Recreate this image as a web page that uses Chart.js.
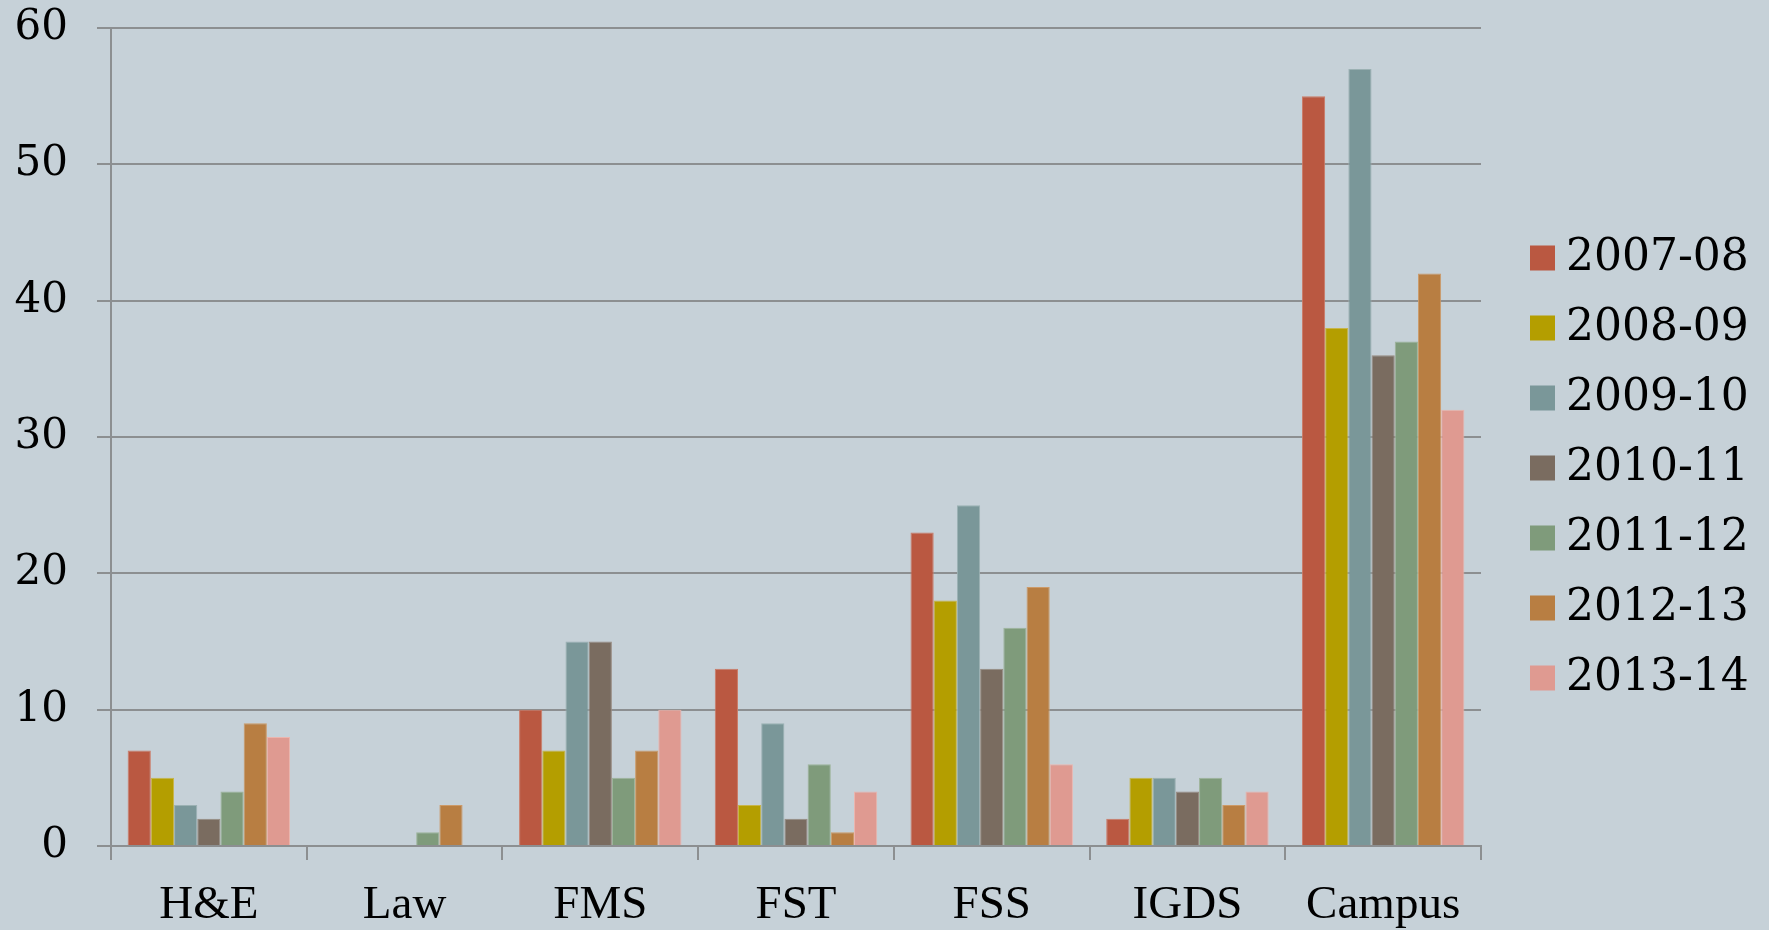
<!DOCTYPE html>
<html>
<head>
<meta charset="utf-8">
<script src="https://cdn.jsdelivr.net/npm/chart.js@4/dist/chart.umd.min.js"></script>
<style>
  html, body { margin: 0; padding: 0; background: #c6d1d8; }
  #wrap { width: 1769px; height: 930px; position: relative; }
</style>
</head>
<body>
<div id="wrap"><canvas id="chart"></canvas></div>
<script>
// data
const categories = ["H&E", "Law", "FMS", "FST", "FSS", "IGDS", "Campus"];
const years = ["2007-08", "2008-09", "2009-10", "2010-11", "2011-12", "2012-13", "2013-14"];
const y0708 = [7, 0, 10, 13, 23, 2, 55];
const y0809 = [5, 0, 7, 3, 18, 5, 38];
const y0910 = [3, 0, 15, 9, 25, 5, 57];
const y1011 = [2, 0, 15, 2, 13, 4, 36];
const y1112 = [4, 1, 5, 6, 16, 5, 37];
const y1213 = [9, 3, 7, 1, 19, 3, 42];
const y1314 = [8, 0, 10, 4, 6, 4, 32];
const yTicks = [0, 10, 20, 30, 40, 50, 60];

const seriesValues = [y0708, y0809, y0910, y1011, y1112, y1213, y1314];
const COLORS = ["#ba5841", "#b49e00", "#7a9799", "#7a6c60", "#7f9b7b", "#b87e42", "#df9a91"];
const EDGES  = ["#cc7a66", "#c8b54a", "#9bb1b3", "#978a80", "#9db49a", "#cc9a68", "#ebb5ae"];
const GRID = "#8c8f91";
const NUM_FONT = "'DejaVu Serif', serif";
const CAT_FONT = "'Liberation Serif', serif";

// legend drawn to the right of the plot, like the original slide
const sideLegend = {
  id: "sideLegend",
  afterDraw(chart) {
    const { ctx, chartArea } = chart;
    const x0 = chartArea.right + 49;
    const step = 70;
    const n = chart.data.datasets.length;
    const yMid = chart.height / 2 + 3;
    ctx.save();
    ctx.font = "44px " + NUM_FONT;
    ctx.textBaseline = "middle";
    ctx.textAlign = "left";
    chart.data.datasets.forEach((ds, i) => {
      const cy = yMid + (i - (n - 1) / 2) * step;
      ctx.fillStyle = ds.backgroundColor;
      ctx.fillRect(x0, cy - 12.5, 25, 25);
      ctx.fillStyle = "#000";
      ctx.fillText(ds.label, x0 + 36, cy + 1);
    });
    ctx.restore();
  },
};

const datasets = years.map((label, i) => ({
  label,
  data: seriesValues[i],
  backgroundColor: COLORS[i],
  borderColor: EDGES[i],
  borderWidth: 1,
  barPercentage: 1.0,
  categoryPercentage: 0.83,
}));

new Chart(document.getElementById("chart"), {
  type: "bar",
  data: { labels: categories, datasets },
  plugins: [sideLegend],
  options: {
    responsive: true,
    maintainAspectRatio: false,
    animation: false,
    layout: { padding: { top: 28, right: 288, left: 0, bottom: 0 } },
    plugins: {
      legend: { display: false },
      tooltip: { enabled: false },
    },
    scales: {
      x: {
        afterFit: (s) => { s.height = 84; },
        grid: {
          offset: true,
          drawOnChartArea: false,
          drawTicks: true,
          tickLength: 14,
          color: GRID,
          lineWidth: 2,
        },
        border: { display: true, color: GRID, width: 2 },
        ticks: {
          color: "#000",
          padding: 17,
          font: { family: CAT_FONT, size: 47 },
          maxRotation: 0,
          autoSkip: false,
        },
      },
      y: {
        min: 0,
        max: 60,
        afterFit: (s) => {
          s.width = 111;
          // labels overflow into the layout padding, don't reserve extra room
          s.paddingTop = 0;
          s.paddingBottom = 0;
        },
        afterBuildTicks: (s) => { s.ticks = yTicks.map((v) => ({ value: v })); },
        grid: {
          drawTicks: true,
          tickLength: 14,
          color: GRID,
          lineWidth: 2,
        },
        border: { display: true, color: GRID, width: 2 },
        ticks: {
          color: "#000",
          padding: 29,
          font: { family: NUM_FONT, size: 42 },
        },
      },
    },
  },
});
</script>
</body>
</html>
